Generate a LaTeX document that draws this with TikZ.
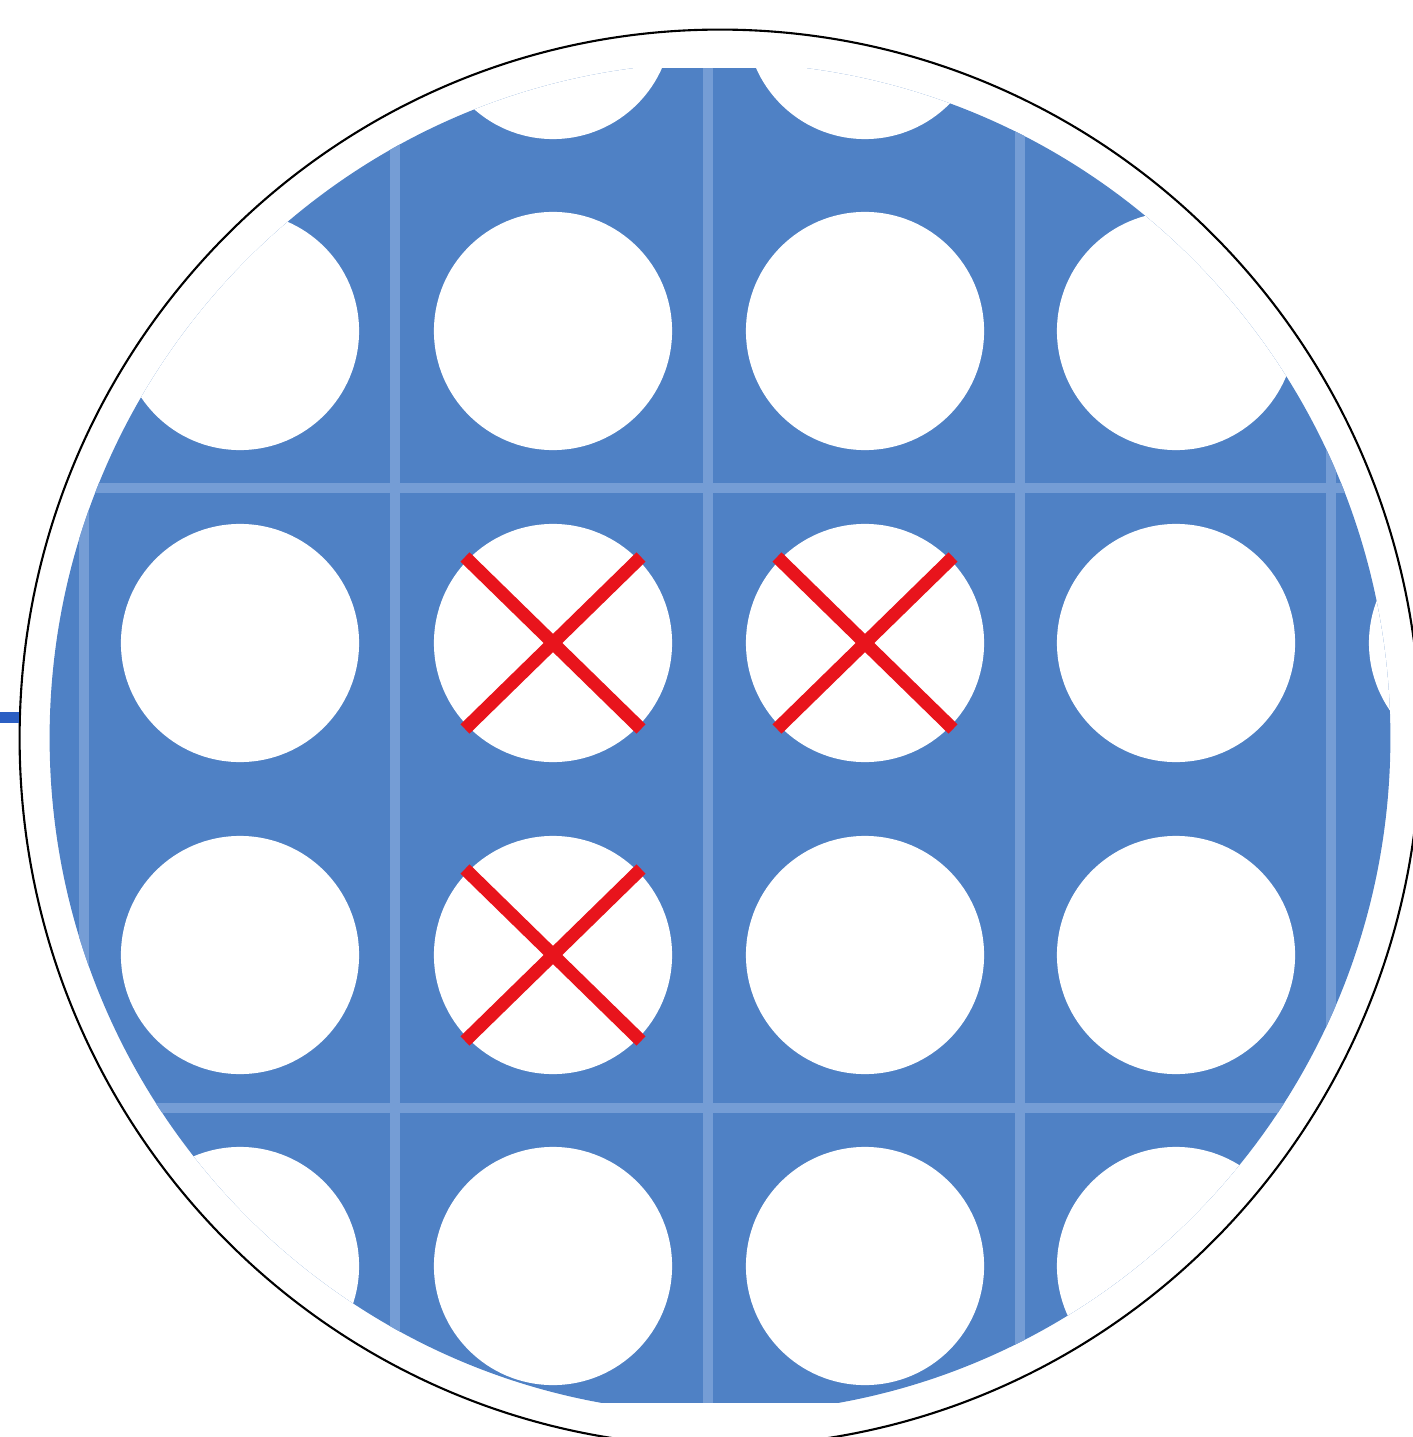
\documentclass[tikz,border=0pt]{standalone}
\usetikzlibrary{shapes.geometric, calc}
\definecolor{plateblue}{HTML}{4F81C5}
\definecolor{seamblue}{HTML}{759DD5}
\definecolor{stubblue}{HTML}{2B5FC3}
\definecolor{crossred}{HTML}{E8141C}

\begin{document}
\begin{tikzpicture}[x=0.01cm, y=-0.01cm,
    hole/.style={fill=white},
    seam/.style={seamblue, line width=0.1cm},
    cross/.style={crossred, line width=0.13cm},
    rim/.style={ellipse, draw=black, line width=0.6pt, inner sep=0pt}]
    \useasboundingbox (0,0) rectangle (1413,1437);

    % perforated plate, clipped round
    \begin{scope}
        \clip (720,738) ellipse [x radius=6.7cm, y radius=6.75cm];
        \fill[plateblue] (48,68) rectangle (1392,1403);
        \foreach \x in {84,395,708,1020,1331}
            \draw[seam] (\x,68) -- (\x,1403);
        \foreach \y in {488,1108}
            \draw[seam] (48,\y) -- (1392,\y);
        \foreach \x in {240,553,865,1176,1488}
            \foreach \y in {20,331,643,955,1266}
                \fill[hole] (\x,\y) circle [radius=1.19cm];
    \end{scope}

    % blocked holes
    \foreach \cx/\cy [count=\i] in {553/643, 865/643, 553/955} {
        \coordinate (blk\i) at (\cx,\cy);
        \draw[cross] ($(blk\i)+(-88,-86)$) -- ($(blk\i)+(88,86)$);
        \draw[cross] ($(blk\i)+(88,-86)$) -- ($(blk\i)+(-88,86)$);
    }

    % outline and feed line
    \node[rim, minimum width=14cm, minimum height=14.16cm] (ring) at (720,738) {};
    \coordinate (feed) at (0,717);
    \draw[stubblue, line width=0.11cm] (feed) -- (feed -| ring.west);
\end{tikzpicture}
\end{document}
